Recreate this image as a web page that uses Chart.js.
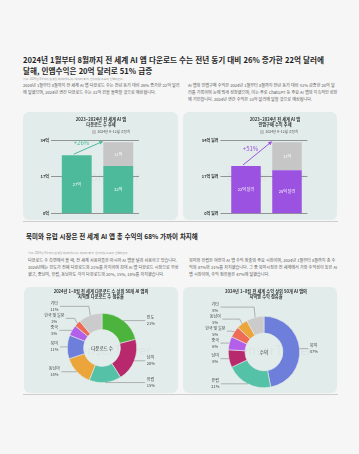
<!DOCTYPE html>
<html lang="ko">
<head>
<meta charset="utf-8">
<script src="https://cdn.jsdelivr.net/npm/chart.js@4.4.1/dist/chart.umd.min.js"></script>
<style>
  body { margin: 0; width: 359px; height: 454px; overflow: hidden; position: relative; background: #f6f6f6; font-family: "Noto Sans CJK KR", "Noto Sans", sans-serif; color: #222; }
  h1, h2 { position: absolute; margin: 0; font-weight: 700; color: #1f1f1f; white-space: nowrap; }
  h1 { left: 23px; top: 54px; font-size: 7.6px; line-height: 11px; }
  h2 { left: 26px; top: 230.5px; font-size: 6.5px; line-height: 11px; }
  .src { position: absolute; font-size: 2.8px; color: #999; white-space: nowrap; }
  .para { position: absolute; margin: 0; font-size: 4.1px; line-height: 7px; color: #555; }
  .card { position: absolute; background: #e2ecea; border-radius: 6px; overflow: hidden; }
  .card canvas { position: absolute; left: 0; top: 0; }
  .ctitle { position: absolute; text-align: center; font-size: 4.2px; line-height: 5px; font-weight: 700; color: #333; white-space: nowrap; }
  .legend { position: absolute; font-size: 3.4px; line-height: 4px; color: #555; white-space: nowrap; }
  .legend i { display: inline-block; width: 4px; height: 4px; background: #c6c6c6; vertical-align: middle; margin-right: 1.5px; }
  .wm { position: absolute; font-size: 13px; color: rgba(0, 0, 0, 0.05); white-space: nowrap; }
  .rule { position: absolute; left: 23px; width: 315px; height: 1.5px; background: #cdcdcd; }
</style>
</head>
<body>

<h1>2024년 1월부터 8월까지 전 세계 AI 앱 다운로드 수는 전년 동기 대비 26% 증가한 22억 달러에<br>달해, 인앱수익은 20억 달러로 51% 급증</h1>
<div class="src" style="left:23px;top:77px">참고: 2024년 8월까지 집계된 데이터입니다. 데이터 출처: 센서타워 스토어 인텔리전스</div>
<p class="para" style="left:23px;top:82px;width:160px">2024년 1월부터 8월까지 전 세계 AI 앱 다운로드 수는 전년 동기 대비 26% 증가한 22억 달러에 달했으며, 2024년 연간 다운로드 수는 33억 건을 돌파할 것으로 예상됩니다.</p>
<p class="para" style="left:188px;top:82px;width:150px">AI 앱의 인앱구매 수익은 2024년 1월부터 8월까지 전년 동기 대비 51% 급증한 20억 달러를 기록하며 눈에 띄게 성장했으며, 이는 주로 ChatGPT 등 주요 AI 앱의 지속적인 성장에 기인합니다. 2024년 연간 수익은 33억 달러에 달할 것으로 예상됩니다.</p>

<div class="card" style="left:23px;top:112px;width:155px;height:108px">
  <div class="wm" style="left:38px;top:54px">SensorTower</div>
  <canvas id="dlBar" width="155" height="108"></canvas>
  <div class="ctitle" style="left:0;top:4.5px;width:156px">2023~2024년 전 세계 AI 앱<br>다운로드 수 추세</div>
  <div class="legend" style="left:69px;top:18px"><i></i>2024년 9~12월 추정치</div>
</div>
<div class="card" style="left:183px;top:112px;width:154px;height:108px">
  <div class="wm" style="left:44px;top:54px">SensorTower</div>
  <canvas id="revBar" width="154" height="108"></canvas>
  <div class="ctitle" style="left:20px;top:4.5px;width:144px">2023~2024년 전 세계 AI 앱<br>인앱구매 수익 추세</div>
  <div class="legend" style="left:77px;top:18px"><i></i>2024년 9~12월 추정치</div>
</div>
<div class="rule" style="top:220.5px"></div>

<h2>북미와 유럽 시장은 전 세계 AI 앱 총 수익의 68% 가까이 차지해</h2>
<div class="src" style="left:28px;top:251px">참고: 2024년 8월까지 집계된 데이터입니다. 데이터 출처: 센서타워 스토어 인텔리전스</div>
<p class="para" style="left:28px;top:256.5px;width:152px">다운로드 수 측면에서 볼 때, 전 세계 사용자들은 아시아 AI 앱을 널리 사용하고 있습니다. 2024년에는 인도가 전체 다운로드의 21%를 차지하며 최대 AI 앱 다운로드 시장으로 부상했고, 중남미, 유럽, 동남아도 각각 다운로드의 20%, 15%, 14%를 차지했습니다.</p>
<p class="para" style="left:189px;top:256.5px;width:150px">북미와 유럽은 여전히 AI 앱 수익 창출의 주요 시장이며, 2024년 1월부터 8월까지 총 수익의 47%와 21%를 차지했습니다. 그 중 북미시장은 전 세계에서 가장 수익성이 높은 AI 앱 시장이며, 수익 점유율은 47%에 달했습니다.</p>

<div class="card" style="left:24px;top:287px;width:154px;height:106px">
  <div class="wm" style="left:48px;top:53px">SensorTower</div>
  <canvas id="dlPie" width="154" height="106"></canvas>
  <div class="ctitle" style="left:0;top:1.8px;width:154px">2024년 1~8월 전 세계 다운로드 수 상위 50개 AI 앱의<br>지역별 다운로드 수 점유율</div>
</div>
<div class="card" style="left:183px;top:287px;width:154px;height:106px">
  <div class="wm" style="left:50px;top:53px">SensorTower</div>
  <canvas id="revPie" width="154" height="106"></canvas>
  <div class="ctitle" style="left:10px;top:1.8px;width:146px">2024년 1~8월 전 세계 수익 상위 50개 AI 앱의<br>지역별 수익 점유율</div>
</div>
<div class="rule" style="top:393.5px"></div>

<script>
// 막대 차트 데이터
const years = ['2023', '2024'];
const downloadsActual = [27, 22];        // 억 건
const downloadsEstimate = [null, 11];    // 2024년 9~12월 추정치
const downloadsText = ['27억', '22억'];
const downloadsEstText = ['', '11억'];
const downloadsTicks = [0, 17, 34];

const revenueActual = [22, 20];          // 억 달러
const revenueEstimate = [null, 13];
const revenueText = ['22억 달러', '20억 달러'];
const revenueEstText = ['', '13억'];
const revenueTicks = [0, 17, 34];

// 도넛 차트 데이터
const dlRegions = ['인도', '남미', '유럽', '동남아', '북미', '중국', '한국 및 일본', '기타'];
const dlShare = [21, 20, 15, 14, 11, 5, 3, 11];
const revRegions = ['북미', '유럽', '남미', '중국', '한국 및 일본', '동남아', '기타'];
const revShare = [47, 21, 8, 6, 5, 5, 8];

const regionColors = {
  '인도': '#4cb43d',
  '남미': '#b7296c',
  '유럽': '#55c1a6',
  '동남아': '#eca53a',
  '북미': '#6d7fdb',
  '중국': '#b45fe9',
  '한국 및 일본': '#ee6c56',
  '기타': '#cbcbcb'
};

const FONT = '"Noto Sans CJK KR", "Noto Sans", sans-serif';
const GREEN = '#4dbb9b';
const PURPLE = '#9c52e0';
const GREY = '#c6c6c6';

const barText = {
  id: 'barText',
  afterDatasetsDraw(chart, args, opts) {
    const ctx = chart.ctx;
    ctx.save();
    ctx.fillStyle = '#fff';
    ctx.font = '4px ' + FONT;
    ctx.textAlign = 'center';
    ctx.textBaseline = 'middle';
    chart.data.datasets.forEach((ds, di) => {
      chart.getDatasetMeta(di).data.forEach((bar, i) => {
        const t = opts.texts[di][i];
        if (t) ctx.fillText(t, bar.x, (bar.y + bar.base) / 2);
      });
    });
    ctx.restore();
  }
};

const growthArrow = {
  id: 'growthArrow',
  afterDatasetsDraw(chart, args, opts) {
    const a = chart.getDatasetMeta(0).data[0];
    const b = chart.getDatasetMeta(1).data[1];
    const x0 = a.x - 3, y0 = a.y - 1;
    const x1 = b.x - b.width / 2, y1 = b.y - 1;
    const ang = Math.atan2(y1 - y0, x1 - x0);
    const ctx = chart.ctx;
    ctx.save();
    ctx.strokeStyle = opts.color;
    ctx.fillStyle = opts.color;
    ctx.lineWidth = 1;
    ctx.beginPath();
    ctx.moveTo(x0, y0);
    ctx.lineTo(x1 - Math.cos(ang) * 2, y1 - Math.sin(ang) * 2);
    ctx.stroke();
    ctx.beginPath();
    ctx.moveTo(x1, y1);
    ctx.lineTo(x1 - Math.cos(ang) * 4 + Math.sin(ang) * 2, y1 - Math.sin(ang) * 4 - Math.cos(ang) * 2);
    ctx.lineTo(x1 - Math.cos(ang) * 4 - Math.sin(ang) * 2, y1 - Math.sin(ang) * 4 + Math.cos(ang) * 2);
    ctx.closePath();
    ctx.fill();
    ctx.font = '6px ' + FONT;
    ctx.textAlign = 'center';
    ctx.textBaseline = 'middle';
    ctx.fillText(opts.text, (x0 + x1) / 2 - 7, (y0 + y1) / 2 - 4.5);
    ctx.restore();
  }
};

function barChart(id, actual, estimate, color, texts, estTexts, ticks, unit, axisWidth, pad, arrowText) {
  return new Chart(document.getElementById(id), {
    type: 'bar',
    data: {
      labels: years,
      datasets: [
        { data: actual, backgroundColor: color },
        { data: estimate, backgroundColor: GREY }
      ]
    },
    options: {
      responsive: false,
      animation: false,
      layout: { padding: { left: 0, right: pad, top: 28, bottom: 0 } },
      datasets: { bar: { categoryPercentage: 1, barPercentage: 0.72 } },
      scales: {
        x: {
          stacked: true,
          grid: { display: false },
          border: { display: false },
          ticks: { color: '#333', padding: 1.5, font: { size: 4.3, weight: 'bold', family: FONT } },
          afterFit(s) { s.height = 6.3; }
        },
        y: {
          stacked: true,
          min: ticks[0],
          max: ticks[ticks.length - 1],
          afterBuildTicks(s) { s.ticks = ticks.map(v => ({ value: v })); },
          grid: { color: '#6e6e6e', lineWidth: 0.7, tickLength: 5, tickColor: '#6e6e6e' },
          border: { display: false },
          ticks: {
            color: '#333', padding: 2,
            font: { size: 4, weight: 'bold', family: FONT },
            callback: v => v + unit
          },
          afterFit(s) { s.width = axisWidth; }
        }
      },
      plugins: {
        legend: { display: false },
        tooltip: { enabled: false },
        barText: { texts: [texts, estTexts] },
        growthArrow: { text: arrowText, color: color }
      }
    },
    plugins: [barText, growthArrow]
  });
}

barChart('dlBar', downloadsActual, downloadsEstimate, GREEN, downloadsText, downloadsEstText,
  downloadsTicks, '억', 33, 39, '+26%');
barChart('revBar', revenueActual, revenueEstimate, PURPLE, revenueText, revenueEstText,
  revenueTicks, '억 달러', 42.5, 29.5, '+51%');

const sliceLabels = {
  id: 'sliceLabels',
  afterDraw(chart, args, opts) {
    const ctx = chart.ctx;
    const arcs = chart.getDatasetMeta(0).data;
    const names = chart.data.labels;
    const vals = chart.data.datasets[0].data;
    const cx = arcs[0].x, cy = arcs[0].y, r = arcs[0].outerRadius;
    const items = arcs.map((a, i) => {
      const mid = (a.startAngle + a.endAngle) / 2;
      const px = cx + Math.cos(mid) * r, py = cy + Math.sin(mid) * r;
      return { i, mid, px, py, y: py, right: px >= cx };
    });
    const left = items.filter(d => !d.right).sort((a, b) => b.py - a.py);
    for (let k = 1; k < left.length; k++) left[k].y = Math.min(left[k].y, left[k - 1].y - opts.gap);
    const right = items.filter(d => d.right).sort((a, b) => a.py - b.py);
    for (let k = 1; k < right.length; k++) right[k].y = Math.max(right[k].y, right[k - 1].y + opts.gap);

    ctx.save();
    ctx.font = '4px ' + FONT;
    ctx.textBaseline = 'middle';
    items.forEach(d => {
      const name = names[d.i], pct = vals[d.i] + '%';
      const colX = d.right ? cx + r + 10 : cx - r - 13;
      const w = Math.max(ctx.measureText(name).width, ctx.measureText(pct).width);
      const ex = cx + Math.cos(d.mid) * (r + 4);
      const endX = d.right ? colX - 1.5 : colX + w / 2 + 1.5;
      ctx.strokeStyle = '#8a8a8a';
      ctx.lineWidth = 0.6;
      ctx.beginPath();
      ctx.moveTo(d.px, d.py);
      ctx.lineTo(ex, d.y);
      ctx.lineTo(endX, d.y);
      ctx.stroke();
      ctx.fillStyle = '#444';
      ctx.textAlign = d.right ? 'left' : 'center';
      ctx.fillText(name, colX, d.y - 3);
      ctx.fillText(pct, colX, d.y + 3);
    });
    ctx.restore();
  }
};

const centerText = {
  id: 'centerText',
  afterDraw(chart, args, opts) {
    const arc = chart.getDatasetMeta(0).data[0];
    const ctx = chart.ctx;
    ctx.save();
    ctx.font = '4.5px ' + FONT;
    ctx.fillStyle = '#333';
    ctx.textAlign = 'center';
    ctx.textBaseline = 'middle';
    ctx.fillText(opts.text, arc.x, arc.y);
    ctx.restore();
  }
};

function donut(id, regions, share, text, pad) {
  return new Chart(document.getElementById(id), {
    type: 'doughnut',
    data: {
      labels: regions,
      datasets: [{
        data: share,
        backgroundColor: regions.map(r => regionColors[r]),
        borderColor: '#e2ecea',
        borderWidth: 0.6
      }]
    },
    options: {
      responsive: false,
      animation: false,
      cutout: '53%',
      layout: { padding: pad },
      plugins: {
        legend: { display: false },
        tooltip: { enabled: false },
        sliceLabels: { gap: 12 },
        centerText: { text: text }
      }
    },
    plugins: [sliceLabels, centerText]
  });
}

donut('dlPie', dlRegions, dlShare, '다운로드 수', { left: 43, right: 41, top: 26, bottom: 10 });
donut('revPie', revRegions, revShare, '수익', { left: 45, right: 37, top: 29, bottom: 5 });
</script>
</body>
</html>
